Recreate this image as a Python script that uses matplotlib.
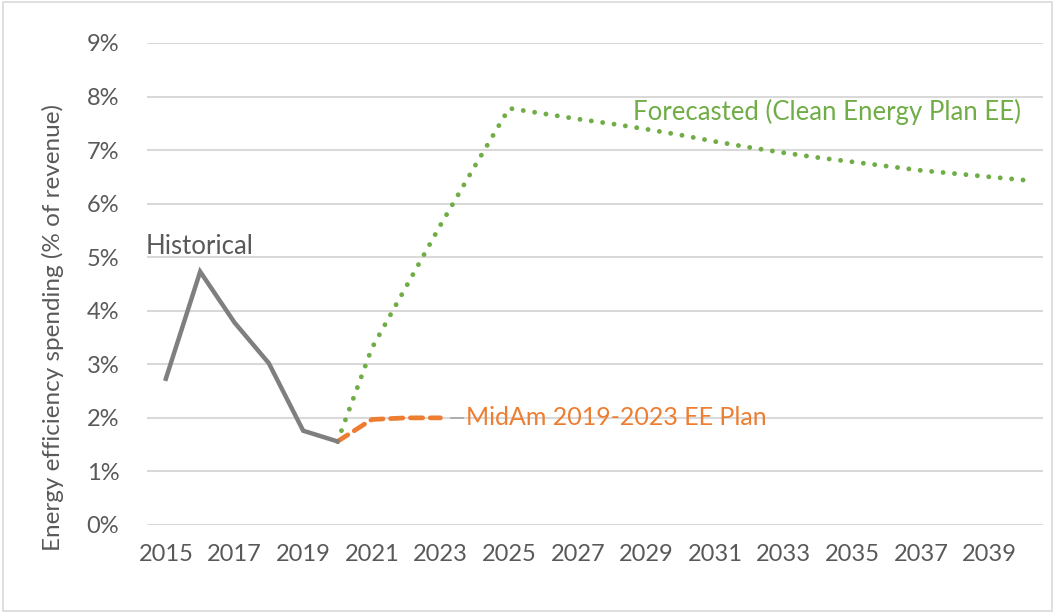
"""
Energy efficiency spending as a share of revenue:
historical, MidAm 2019-2023 plan and Clean Energy Plan forecast.
"""

import matplotlib
matplotlib.use("Agg")
import matplotlib.pyplot as plt
from matplotlib.patches import Rectangle

# --- data (% of revenue) ---
hist_years = [2015, 2016, 2017, 2018, 2019, 2020]
hist_values = [2.73, 4.73, 3.78, 3.02, 1.76, 1.56]

plan_years = [2020, 2021, 2022, 2023]
plan_values = [1.56, 1.97, 2.00, 2.00]

fcst_years = list(range(2020, 2041))
fcst_values = [1.56, 3.30, 4.45, 5.60, 6.70, 7.78,
               7.68, 7.58, 7.49, 7.39, 7.28, 7.16, 7.05, 6.95,
               6.86, 6.78, 6.70, 6.62, 6.56, 6.50, 6.44]

xtick_years = list(range(2015, 2041, 2))
ytick_values = list(range(0, 10))

GRAY_LINE = "#7F7F7F"
TEXT = "#595959"
GRID = "#D9D9D9"
GREEN = "#70AD47"
ORANGE = "#ED7D31"

plt.rcParams["font.family"] = ["Lato", "DejaVu Sans"]

fig = plt.figure(figsize=(10.55, 6.13), dpi=100)
fig.patches.append(Rectangle((0.003, 0.004), 0.994, 0.992, transform=fig.transFigure,
                             fill=False, edgecolor=GRID, linewidth=1.2))
ax = fig.add_axes([0.1393, 0.1436, 0.8493, 0.7863])

# horizontal gridlines
for v in ytick_values:
    ax.axhline(v, color=GRID, linewidth=1.5, zorder=0)

ax.plot(fcst_years, fcst_values, color=GREEN, linewidth=3.5,
        linestyle=(0, (0.01, 2.35)), dash_capstyle="round", zorder=2)
ax.plot(plan_years, plan_values, color=ORANGE, linewidth=3.4,
        linestyle=(0, (2.6, 1.6)), dash_capstyle="round", zorder=3)
ax.plot(hist_years, hist_values, color=GRAY_LINE, linewidth=3.2,
        solid_joinstyle="miter", zorder=4)

# series labels
ax.text(2014.4, 5.2, "Historical", color=TEXT, fontsize=18.5,
        ha="left", va="center")
ax.plot([2023.3, 2023.65], [2.0, 2.0], color="#A6A6A6", linewidth=1.2)
ax.text(2023.75, 2.0, "MidAm 2019-2023 EE Plan", color=ORANGE, fontsize=18,
        ha="left", va="center")
ax.text(2039.9, 7.72, "Forecasted (Clean Energy Plan EE)", color=GREEN,
        fontsize=18.5, ha="right", va="center")

ax.set_xlim(2014.45, 2040.55)
ax.set_ylim(0, 9)
ax.set_xticks(xtick_years)
ax.set_xticklabels([str(y) for y in xtick_years])
ax.set_yticks(ytick_values)
ax.set_yticklabels([f"{v}%" for v in ytick_values])
ax.tick_params(axis="both", length=0, labelsize=17, colors=TEXT)
ax.tick_params(axis="y", pad=20)
ax.tick_params(axis="x", pad=14)
for s in ax.spines.values():
    s.set_visible(False)

ax.set_ylabel("Energy efficiency spending (% of revenue)", color=TEXT,
              fontsize=17.5)
ax.yaxis.set_label_coords(-0.093, 0.41)

fig.savefig("out.png", dpi=100)
